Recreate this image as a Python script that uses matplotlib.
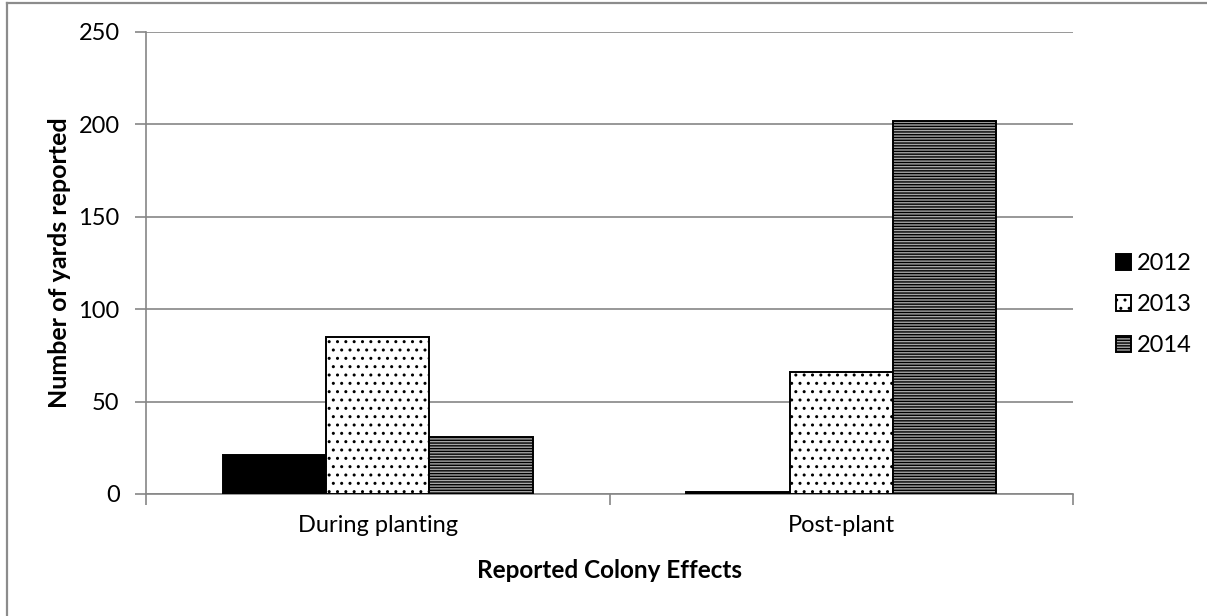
import numpy as np
import matplotlib.pyplot as plt
from matplotlib.lines import Line2D

# Yards reporting colony effects, by period and year
categories = ["During planting", "Post-plant"]
years = ["2012", "2013", "2014"]
counts_2012 = [21, 1]
counts_2013 = [85, 66]
counts_2014 = [31, 202]

plt.rcParams['font.family'] = ['Lato', 'DejaVu Sans']
plt.rcParams['hatch.linewidth'] = 1.0

W, H = 1207, 616
fig = plt.figure(figsize=(W / 100, H / 100), dpi=100)
ax = fig.add_axes([146 / W, 1 - 494 / H, (1073 - 146) / W, (494 - 32) / H])

# chart area frame (top and left edges)
frame_kw = dict(transform=fig.transFigure, color='#8c8c8c', linewidth=1.6)
fig.add_artist(Line2D([7 / W, 1.0], [1 - 3 / H, 1 - 3 / H], **frame_kw))
fig.add_artist(Line2D([7 / W, 7 / W], [0.0, 1 - 3 / H], **frame_kw))

x = np.arange(len(categories))
width = 0.223

styles = [
    dict(color='black', hatch=None),
    dict(color='white', hatch='..'),
    dict(color='#a8a8a8', hatch='------'),
]
series = [counts_2012, counts_2013, counts_2014]

for i, (vals, year, st) in enumerate(zip(series, years, styles)):
    ax.bar(x + (i - 1) * width, vals, width, label=year,
           facecolor=st['color'], edgecolor='black',
           hatch=st['hatch'], linewidth=1.4, zorder=3)

ax.set_xlim(-0.5, 1.5)
ax.set_ylim(0, 250)
ax.set_yticks(np.arange(0, 251, 50))
ax.set_xticks(x)
ax.set_xticklabels(categories, fontsize=17)
ax.set_xticks([-0.5, 0.5, 1.5], minor=True)
ax.tick_params(axis='x', which='major', length=0, pad=15)
ax.tick_params(axis='x', which='minor', length=8, color='#868686', width=1.2)
ax.tick_params(axis='y', length=8, color='#868686', width=1.2, labelsize=17, pad=11)

ax.grid(axis='y', color='#868686', linewidth=1.2, zorder=0)
for side in ['top', 'right']:
    ax.spines[side].set_visible(False)
for side in ['left', 'bottom']:
    ax.spines[side].set_color('#868686')
    ax.spines[side].set_linewidth(1.2)

ax.set_ylabel('Number of yards reported', fontsize=18, fontweight='bold')
ax.yaxis.set_label_coords(-0.081, 0.5)
ax.set_xlabel('Reported Colony Effects', fontsize=17.5, fontweight='bold')
ax.xaxis.set_label_coords(0.5, -0.14)

ax.legend(loc='center left', bbox_to_anchor=(1.0464, 0.41), frameon=False,
          fontsize=17, handlelength=0.64, handleheight=0.64, handletextpad=0.25,
          labelspacing=0.85, borderpad=0, borderaxespad=0)

fig.savefig('out.png', dpi=100)
